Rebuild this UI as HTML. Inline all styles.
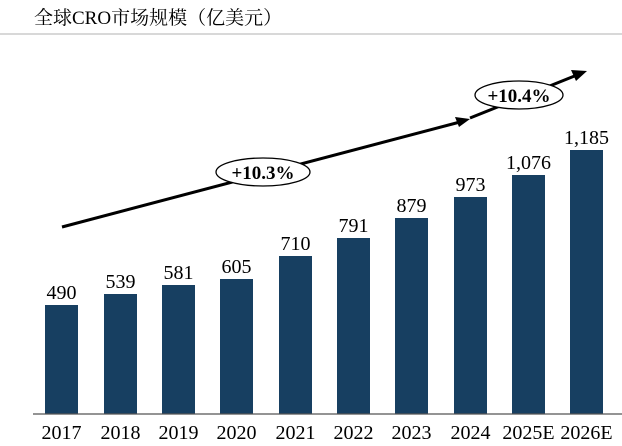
<!DOCTYPE html><html><head><meta charset="utf-8"><style>body{margin:0;background:#fff}</style></head><body>
<svg width="622" height="441" xmlns="http://www.w3.org/2000/svg" font-family="'Liberation Serif','Noto Serif CJK SC',serif">
<text x="34" y="24" font-size="19" fill="#000">全球CRO市场规模（亿美元）</text>
<line x1="0" y1="34" x2="622" y2="34" stroke="#999" stroke-width="0.8"/>
<g fill="#173f61">
<rect x="45" y="305" width="33" height="109"/>
<rect x="104" y="294" width="33" height="120"/>
<rect x="162" y="285" width="33" height="129"/>
<rect x="220" y="279" width="33" height="135"/>
<rect x="279" y="256" width="33" height="158"/>
<rect x="337" y="238" width="33" height="176"/>
<rect x="395" y="218" width="33" height="196"/>
<rect x="454" y="197" width="33" height="217"/>
<rect x="512" y="175" width="33" height="239"/>
<rect x="570" y="150" width="33" height="264"/>
</g>
<line x1="33" y1="414" x2="622" y2="414" stroke="#555" stroke-width="1.2"/>
<g font-size="20" text-anchor="middle" fill="#000">
<text x="61.5" y="299">490</text><text x="120.5" y="288">539</text><text x="178.5" y="279">581</text><text x="236.5" y="273">605</text><text x="295.5" y="250">710</text><text x="353.5" y="232">791</text><text x="411.5" y="212">879</text><text x="470.5" y="191">973</text><text x="528.5" y="169">1,076</text><text x="586.5" y="144">1,185</text>
<text x="61.5" y="439">2017</text><text x="120.5" y="439">2018</text><text x="178.5" y="439">2019</text><text x="236.5" y="439">2020</text><text x="295.5" y="439">2021</text><text x="353.5" y="439">2022</text><text x="411.5" y="439">2023</text><text x="470.5" y="439">2024</text><text x="528.5" y="439">2025E</text><text x="586.5" y="439">2026E</text>
</g>
<line x1="62" y1="227" x2="460" y2="122" stroke="#000" stroke-width="3"/>
<polygon points="470,119 455,117 459,127" fill="#000"/>
<line x1="470" y1="118" x2="577" y2="75" stroke="#000" stroke-width="3"/>
<polygon points="587,71 571,70 576,81" fill="#000"/>
<ellipse cx="263" cy="172" rx="47" ry="14" fill="#fff" stroke="#000" stroke-width="1.3"/>
<text x="263" y="179" font-size="19" font-weight="bold" text-anchor="middle">+10.3%</text>
<ellipse cx="519" cy="95" rx="44" ry="14" fill="#fff" stroke="#000" stroke-width="1.3"/>
<text x="519" y="102" font-size="19" font-weight="bold" text-anchor="middle">+10.4%</text>
</svg></body></html>
